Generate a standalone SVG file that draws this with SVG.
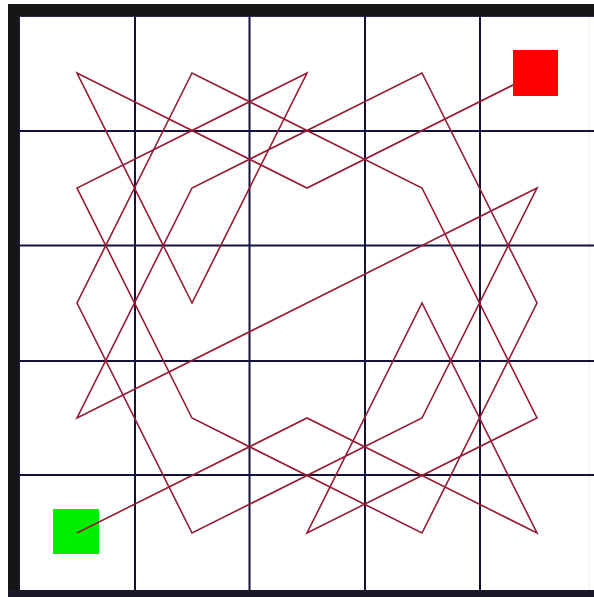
<svg xmlns="http://www.w3.org/2000/svg" width="594" height="597" viewBox="0 0 594 597">
  <style>
    .frame { fill: #161616; }
    .grid line { stroke: #12123a; stroke-width: 2; }
    .tour { fill: none; stroke: #951a32; stroke-width: 1.6; stroke-linejoin: miter; }
  </style>
  <rect x="0" y="0" width="594" height="597" fill="#ffffff"/>
  <!-- frame -->
  <rect class="frame" x="8" y="4" width="586" height="12"/>
  <rect class="frame" x="8" y="4" width="12" height="593"/>
  <rect x="8" y="590" width="586" height="7" fill="#191928"/>
  <line x1="19.5" y1="16" x2="19.5" y2="590" stroke="#1c1c5a" stroke-width="1"/>
  <line x1="20" y1="16.5" x2="594" y2="16.5" stroke="#2a2a55" stroke-width="1"/>
  <line x1="589" y1="17" x2="589" y2="590" stroke="#ececec" stroke-width="1"/>
  <!-- grid -->
  <g class="grid">
    <line x1="135" y1="16" x2="135" y2="590"/>
    <line x1="249.5" y1="16" x2="249.5" y2="590"/>
    <line x1="365" y1="16" x2="365" y2="590"/>
    <line x1="480" y1="16" x2="480" y2="590"/>
    <line x1="20" y1="131" x2="594" y2="131"/>
    <line x1="20" y1="245.5" x2="594" y2="245.5"/>
    <line x1="20" y1="361" x2="594" y2="361"/>
    <line x1="20" y1="475" x2="594" y2="475"/>
  </g>
  <g id="start">
    <rect x="53" y="509" width="46" height="45" fill="#00ee00"/>
  </g>
  <g id="connectors">
    <polyline class="tour" points="77,533 307,418 537,533 422,303 307,533 537,418 422,188 192,73 77,303 192,533 422,418 537,188 307,303 77,418 192,188 422,73 537,303 422,533 192,418 77,188 307,73 192,303 77,73 307,188 537,73"/>
  </g>
  <g id="end">
    <rect x="513" y="50" width="45" height="46" fill="#ff0000"/>
  </g>
</svg>
